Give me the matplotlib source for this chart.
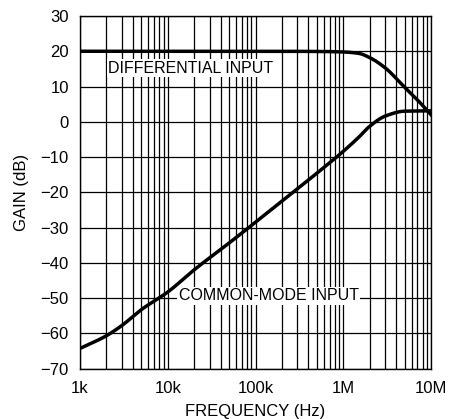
import numpy as np
import matplotlib
matplotlib.use("Agg")
import matplotlib.pyplot as plt
from matplotlib.ticker import LogLocator, FixedLocator, NullFormatter

plt.rcParams['font.family'] = ['Liberation Sans Narrow', 'Liberation Sans', 'DejaVu Sans']

# courbe gain differentiel (Hz, dB)
freq_diff = [1e3, 1e4, 1e5, 5e5, 1e6, 1.5e6, 2e6, 3e6, 5e6, 7e6, 1e7]
gain_diff = [20, 20, 20, 19.95, 19.8, 19.4, 18.2, 15.3, 9.8, 6.2, 2.0]

# courbe gain mode commun
freq_cm = [1e3, 1.5e3, 2e3, 3e3, 5e3, 1e4, 2e4, 5e4, 1e5, 2e5, 5e5, 1e6, 1.5e6, 2e6, 3e6, 5e6, 1e7]
gain_cm = [-64.3, -62.3, -60.7, -57.8, -53.3, -48.3, -42.0, -34.4, -28.5, -22.5, -14.6, -8.4, -4.4, -1.3, 1.6, 3.0, 3.1]

x_ticks = [1e3, 1e4, 1e5, 1e6, 1e7]
x_labels = ["1k", "10k", "100k", "1M", "10M"]
y_ticks = list(range(-70, 31, 10))


# interpolation cubique monotone (Fritsch-Carlson) en log(f)
def courbe_lisse(f, g, n=500):
    x = np.log10(f)
    y = np.array(g, dtype=float)
    h = np.diff(x)
    d = np.diff(y) / h
    m = np.zeros(len(x))
    m[0] = d[0]
    m[-1] = d[-1]
    for i in range(1, len(x) - 1):
        if d[i - 1] * d[i] <= 0:
            m[i] = 0
        else:
            w1 = 2 * h[i] + h[i - 1]
            w2 = h[i] + 2 * h[i - 1]
            m[i] = (w1 + w2) / (w1 / d[i - 1] + w2 / d[i])
    xs = np.linspace(x[0], x[-1], n)
    idx = np.clip(np.searchsorted(x, xs) - 1, 0, len(x) - 2)
    t = (xs - x[idx]) / h[idx]
    h00 = 2 * t**3 - 3 * t**2 + 1
    h10 = t**3 - 2 * t**2 + t
    h01 = -2 * t**3 + 3 * t**2
    h11 = t**3 - t**2
    ys = h00 * y[idx] + h10 * h[idx] * m[idx] + h01 * y[idx + 1] + h11 * h[idx] * m[idx + 1]
    return 10**xs, ys


fig = plt.figure(figsize=(4.51, 4.19), dpi=100)
ax = fig.add_axes([0.1774, 0.1205, 0.7783, 0.8413])

fd, yd = courbe_lisse(freq_diff, gain_diff)
fc, yc = courbe_lisse(freq_cm, gain_cm)
ax.plot(fd, yd, color='black', lw=2.5, zorder=5)
ax.plot(fc, yc, color='black', lw=2.5, zorder=5)

ax.set_xscale('log')
ax.set_xlim(1e3, 1e7)
ax.set_ylim(-70, 30)
ax.xaxis.set_major_locator(FixedLocator(x_ticks))
ax.set_xticklabels(x_labels)
ax.xaxis.set_minor_locator(LogLocator(base=10, subs=np.arange(2, 10)))
ax.xaxis.set_minor_formatter(NullFormatter())
ax.set_yticks(y_ticks)
ax.set_yticklabels([str(v).replace('-', '\u2212') for v in y_ticks])

ax.grid(True, which='both', color='black', lw=0.9)
ax.tick_params(which='both', length=0, labelsize=12)
ax.tick_params(axis='y', pad=8)
ax.tick_params(axis='x', pad=9)
for s in ax.spines.values():
    s.set_linewidth(1.0)

ax.set_xlabel("FREQUENCY (Hz)", fontsize=12, labelpad=6)
ax.set_ylabel("GAIN (dB)", fontsize=12, labelpad=8)

ax.text(1.84e4, 15.2, "DIFFERENTIAL INPUT", fontsize=11.5, ha='center', va='center',
        bbox=dict(facecolor='white', edgecolor='none', pad=1), zorder=6)
ax.text(1.42e5, -49.4, "COMMON-MODE INPUT", fontsize=11.5, ha='center', va='center',
        bbox=dict(facecolor='white', edgecolor='none', pad=1), zorder=6)

fig.savefig("out.png", dpi=100)
